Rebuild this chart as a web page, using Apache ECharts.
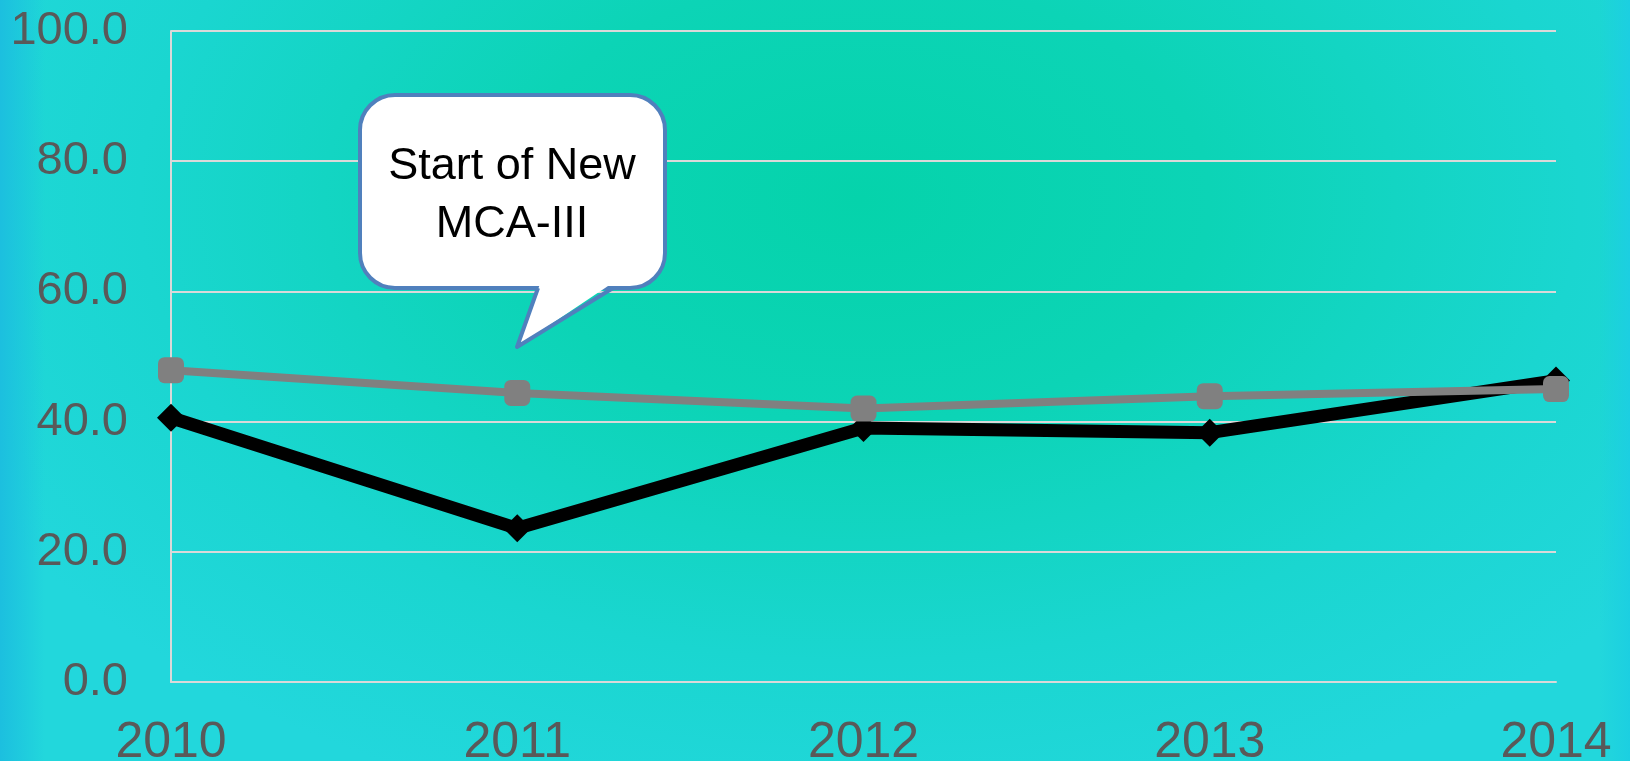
<!DOCTYPE html>
<html>
<head>
<meta charset="utf-8">
<script src="https://cdn.jsdelivr.net/npm/echarts@6/dist/echarts.min.js"></script>
<style>
  html, body { margin: 0; padding: 0; }
  #chart {
    width: 1630px;
    height: 761px;
    background:
      linear-gradient(to right, #1cbfdf 0px, rgba(34,216,218,0) 45px),
      linear-gradient(to left, #1ccfe1 0px, rgba(34,212,220,0) 30px),
      radial-gradient(ellipse 1000px 640px at 860px 200px, #05d3ab 0%, #0cd4b6 35%, #1ad6d0 72%, #22d7dc 100%);
    background-color: #22d7dc;
  }
</style>
</head>
<body>
<div id="chart"></div>
<script>
// chart data
const years = ['2010', '2011', '2012', '2013', '2014'];
const blackValues = [40.6, 23.6, 39.0, 38.3, 46.3];
const grayValues = [47.9, 44.4, 42.0, 43.9, 45.0];
const yTicks = { min: 0, max: 100, interval: 20 };
const calloutText = 'Start of New\nMCA-III';

const chart = echarts.init(document.getElementById('chart'));

const bubbleBlue = '#5080bd';

const option = {
  animation: false,
  // fixed plot box, labels allowed outside it
  grid: { left: 171, top: 31, right: 74, bottom: 79, outerBoundsMode: 'none', containLabel: false },
  xAxis: {
    type: 'category',
    data: years,
    boundaryGap: false,
    axisLine: { show: true, lineStyle: { color: '#d9d9d9', width: 2 } },
    axisTick: { show: false },
    axisLabel: {
      color: '#595959',
      fontSize: 50,
      fontFamily: 'Liberation Sans, Arial, sans-serif',
      margin: 36,
      lineHeight: 50
    },
    splitLine: { show: false }
  },
  yAxis: {
    type: 'value',
    min: yTicks.min,
    max: yTicks.max,
    interval: yTicks.interval,
    axisLine: { show: true, lineStyle: { color: '#d9d9d9', width: 2 } },
    axisTick: { show: false },
    axisLabel: {
      color: '#595959',
      fontSize: 47,
      fontFamily: 'Liberation Sans, Arial, sans-serif',
      margin: 43,
      formatter: (v) => v.toFixed(1)
    },
    splitLine: { lineStyle: { color: '#d9d9d9', width: 2 } }
  },
  series: [
    {
      type: 'line',
      data: blackValues,
      symbol: 'diamond',
      symbolSize: 28,
      lineStyle: { color: '#000', width: 13 },
      itemStyle: { color: '#000' },
      z: 2
    },
    {
      type: 'line',
      data: grayValues,
      symbol: 'roundRect',
      symbolSize: 26,
      lineStyle: { color: '#808080', width: 8 },
      itemStyle: { color: '#808080' },
      z: 3
    }
  ],
  // speech bubble: box, then tail fill over the box border, then tail edges
  graphic: [
    {
      type: 'rect',
      shape: { x: 360, y: 95, width: 305, height: 193, r: 35 },
      style: { fill: '#fff', stroke: bubbleBlue, lineWidth: 4 },
      z: 10
    },
    {
      type: 'polygon',
      shape: { points: [[540, 284], [611, 284], [517, 347]] },
      style: { fill: '#fff' },
      z: 11
    },
    {
      type: 'polyline',
      shape: { points: [[538, 288], [517, 347], [613, 288]] },
      style: { stroke: bubbleBlue, lineWidth: 4, fill: null, lineJoin: 'round' },
      z: 12
    },
    {
      type: 'text',
      x: 512,
      y: 196,
      style: {
        text: calloutText,
        fill: '#000',
        font: '45px "Liberation Sans", Arial, sans-serif',
        align: 'center',
        verticalAlign: 'middle',
        lineHeight: 58
      },
      z: 13
    }
  ]
};

chart.setOption(option);
</script>
</body>
</html>
